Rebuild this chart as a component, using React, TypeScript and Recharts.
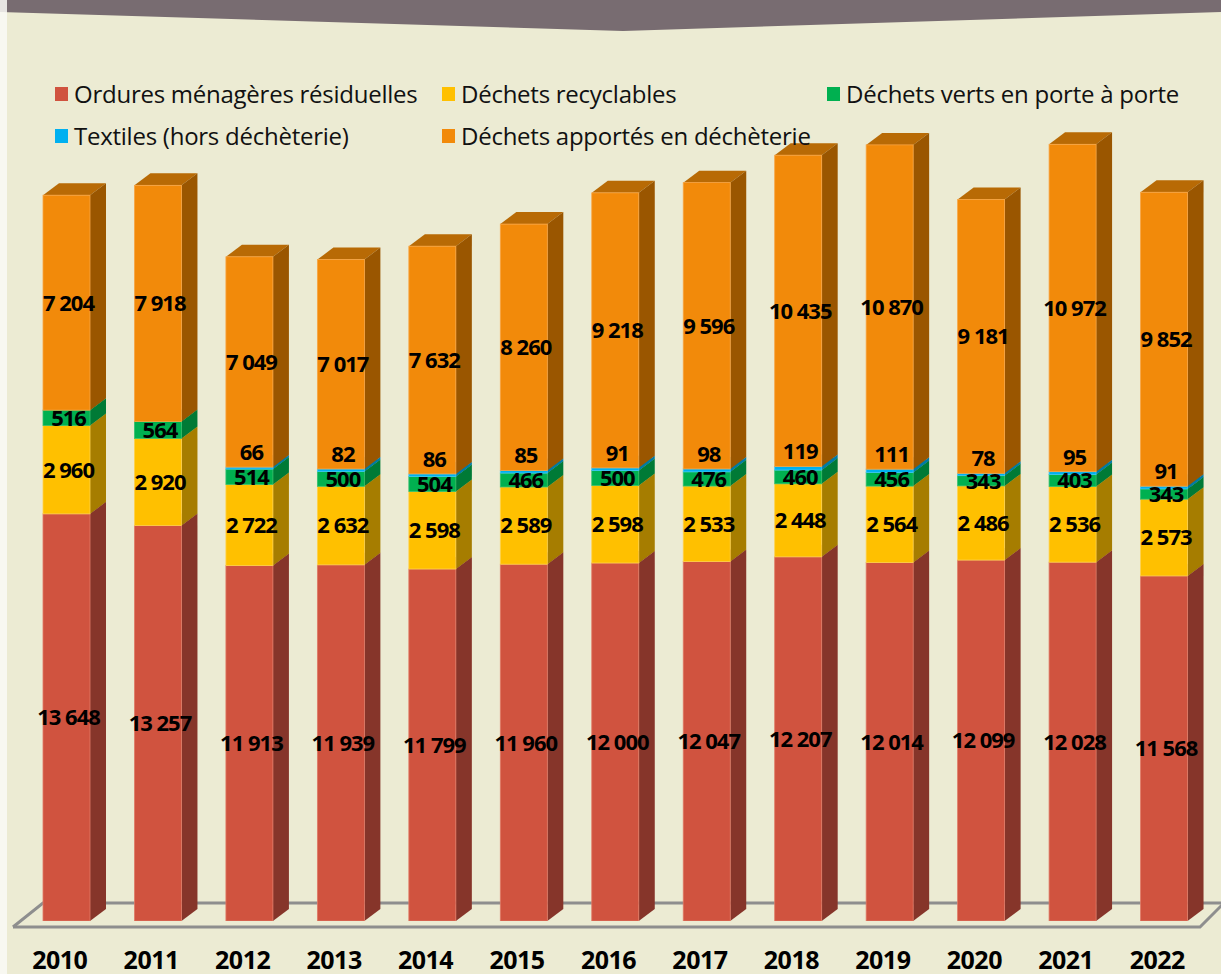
import { BarChart, Bar, XAxis, YAxis, LabelList } from "recharts";

const YEARS = ["2010", "2011", "2012", "2013", "2014", "2015", "2016", "2017", "2018", "2019", "2020", "2021", "2022"];
const ORDURES = [13648, 13257, 11913, 11939, 11799, 11960, 12000, 12047, 12207, 12014, 12099, 12028, 11568];
const RECYCLABLES = [2960, 2920, 2722, 2632, 2598, 2589, 2598, 2533, 2448, 2564, 2486, 2536, 2573];
const VERTS = [516, 564, 514, 500, 504, 466, 500, 476, 460, 456, 343, 403, 343];
const TEXTILES = [null, null, 66, 82, 86, 85, 91, 98, 119, 111, 78, 95, 91];
const DECHETERIE = [7204, 7918, 7049, 7017, 7632, 8260, 9218, 9596, 10435, 10870, 9181, 10972, 9852];

const data = YEARS.map((year, i) => ({
  year,
  ordures: ORDURES[i],
  recyclables: RECYCLABLES[i],
  verts: VERTS[i],
  textiles: TEXTILES[i],
  decheterie: DECHETERIE[i],
}));

const SERIES = [
  { key: "ordures", name: "Ordures ménagères résiduelles", front: "#D0533F", side: "#86352A", top: "#A9432F", edge: "#E07A66" },
  { key: "recyclables", name: "Déchets recyclables", front: "#FFC000", side: "#A67D00", top: "#C99800", edge: "#FFD24D" },
  { key: "verts", name: "Déchets verts en porte à porte", front: "#00B050", side: "#007A36", top: "#008C40", edge: "#33C070" },
  { key: "textiles", name: "Textiles (hors déchèterie)", front: "#00B0F0", side: "#0079A8", top: "#0090C4", edge: "#40C8F8" },
  { key: "decheterie", name: "Déchets apportés en déchèterie", front: "#F28A0A", side: "#9A5600", top: "#B86A05", edge: "#F8A544" },
];

// legend layout: [series index, left, top]
const LEGEND_POS = [
  [0, 55, 79],
  [1, 442, 79],
  [2, 827, 79],
  [3, 55, 121],
  [4, 442, 121],
];

const DX = 16;
const DY = 12;
const FONT = "'Open Sans', 'DejaVu Sans', sans-serif";

const fmt = (v: number) => String(v).replace(/\B(?=(\d{3})+(?!\d))/g, " ");

const Box3D = (props: any) => {
  const { x, y, width, height, c } = props;
  if (!height || height <= 0) return <g />;
  const r = x + width;
  const b = y + height;
  return (
    <g>
      <polygon points={`${x},${y} ${x + DX},${y - DY} ${r + DX},${y - DY} ${r},${y}`} fill={c.top} />
      <polygon points={`${r},${y} ${r + DX},${y - DY} ${r + DX},${b - DY} ${r},${b}`} fill={c.side} />
      <rect x={x} y={y} width={width} height={height} fill={c.front} stroke={c.edge} strokeWidth={0.8} />
    </g>
  );
};

const makeLabel = (above: boolean) => (props: any) => {
  const { x, y, width, height, value } = props;
  if (value == null || value === 0) return null;
  const cy = above ? y - 15 : y + height / 2;
  return (
    <text
      x={x + width / 2 + 2}
      y={cy}
      dy="0.36em"
      textAnchor="middle"
      fontFamily={FONT}
      fontWeight={700}
      fontSize={22}
      letterSpacing={-1}
      fill="#000"
    >
      {fmt(value)}
    </text>
  );
};

const YearTick = (props: any) => {
  const { x, y, payload } = props;
  return (
    <text x={x - 7} y={y + 40} textAnchor="middle" fontFamily={FONT} fontWeight={700} fontSize={25} letterSpacing={-0.5} fill="#000">
      {payload.value}
    </text>
  );
};

export default function App() {
  return (
    <div style={{ position: "absolute", left: 0, top: 0, width: 1221, height: 974, background: "#ECEBD3", overflow: "hidden" }}>
      <svg width={1221} height={974} style={{ position: "absolute", left: 0, top: 0 }}>
        <polygon points="0,0 1221,0 1221,12 623,31 0,12" fill="#786C71" />
        {/* floor */}
        <polyline points="13,927 1200,927 1224,903" fill="none" stroke="#8E8E8E" strokeWidth={3} />
        <polyline points="13,927 43,903 1221,903" fill="none" stroke="#8E8E8E" strokeWidth={3} />
      </svg>
      <div style={{ position: "absolute", left: 0, top: 0 }}>
        <BarChart width={1221} height={974} data={data} margin={{ top: 26, right: 11, bottom: 23, left: 21 }} barSize={47}>
          <XAxis dataKey="year" axisLine={false} tickLine={false} tick={<YearTick />} interval={0} height={30} />
          <YAxis hide domain={[0, 30000]} allowDataOverflow />
          {SERIES.map((s) => (
            <Bar
              key={s.key}
              dataKey={s.key}
              name={s.name}
              stackId="a"
              fill={s.front}
              isAnimationActive={false}
              shape={(p: any) => <Box3D {...p} c={s} />}
            >
              <LabelList dataKey={s.key} content={makeLabel(s.key === "textiles")} />
            </Bar>
          ))}
        </BarChart>
      </div>
      <div style={{ position: "absolute", left: 0, top: 0, width: 1221, height: 974, pointerEvents: "none" }}>
        {LEGEND_POS.map(([i, left, top]) => (
          <div
            key={i}
            style={{ position: "absolute", left, top, display: "flex", alignItems: "center", fontFamily: FONT, fontSize: 24, letterSpacing: -0.25, color: "#111", whiteSpace: "nowrap", lineHeight: "30px" }}
          >
            <span style={{ display: "inline-block", width: 13, height: 14, background: SERIES[i].front, marginRight: 6 }} />
            {SERIES[i].name}
          </div>
        ))}
      </div>
      <div style={{ position: "absolute", left: 0, top: 0, width: 7, height: 974, background: "rgba(250,250,246,0.85)" }} />
    </div>
  );
}
